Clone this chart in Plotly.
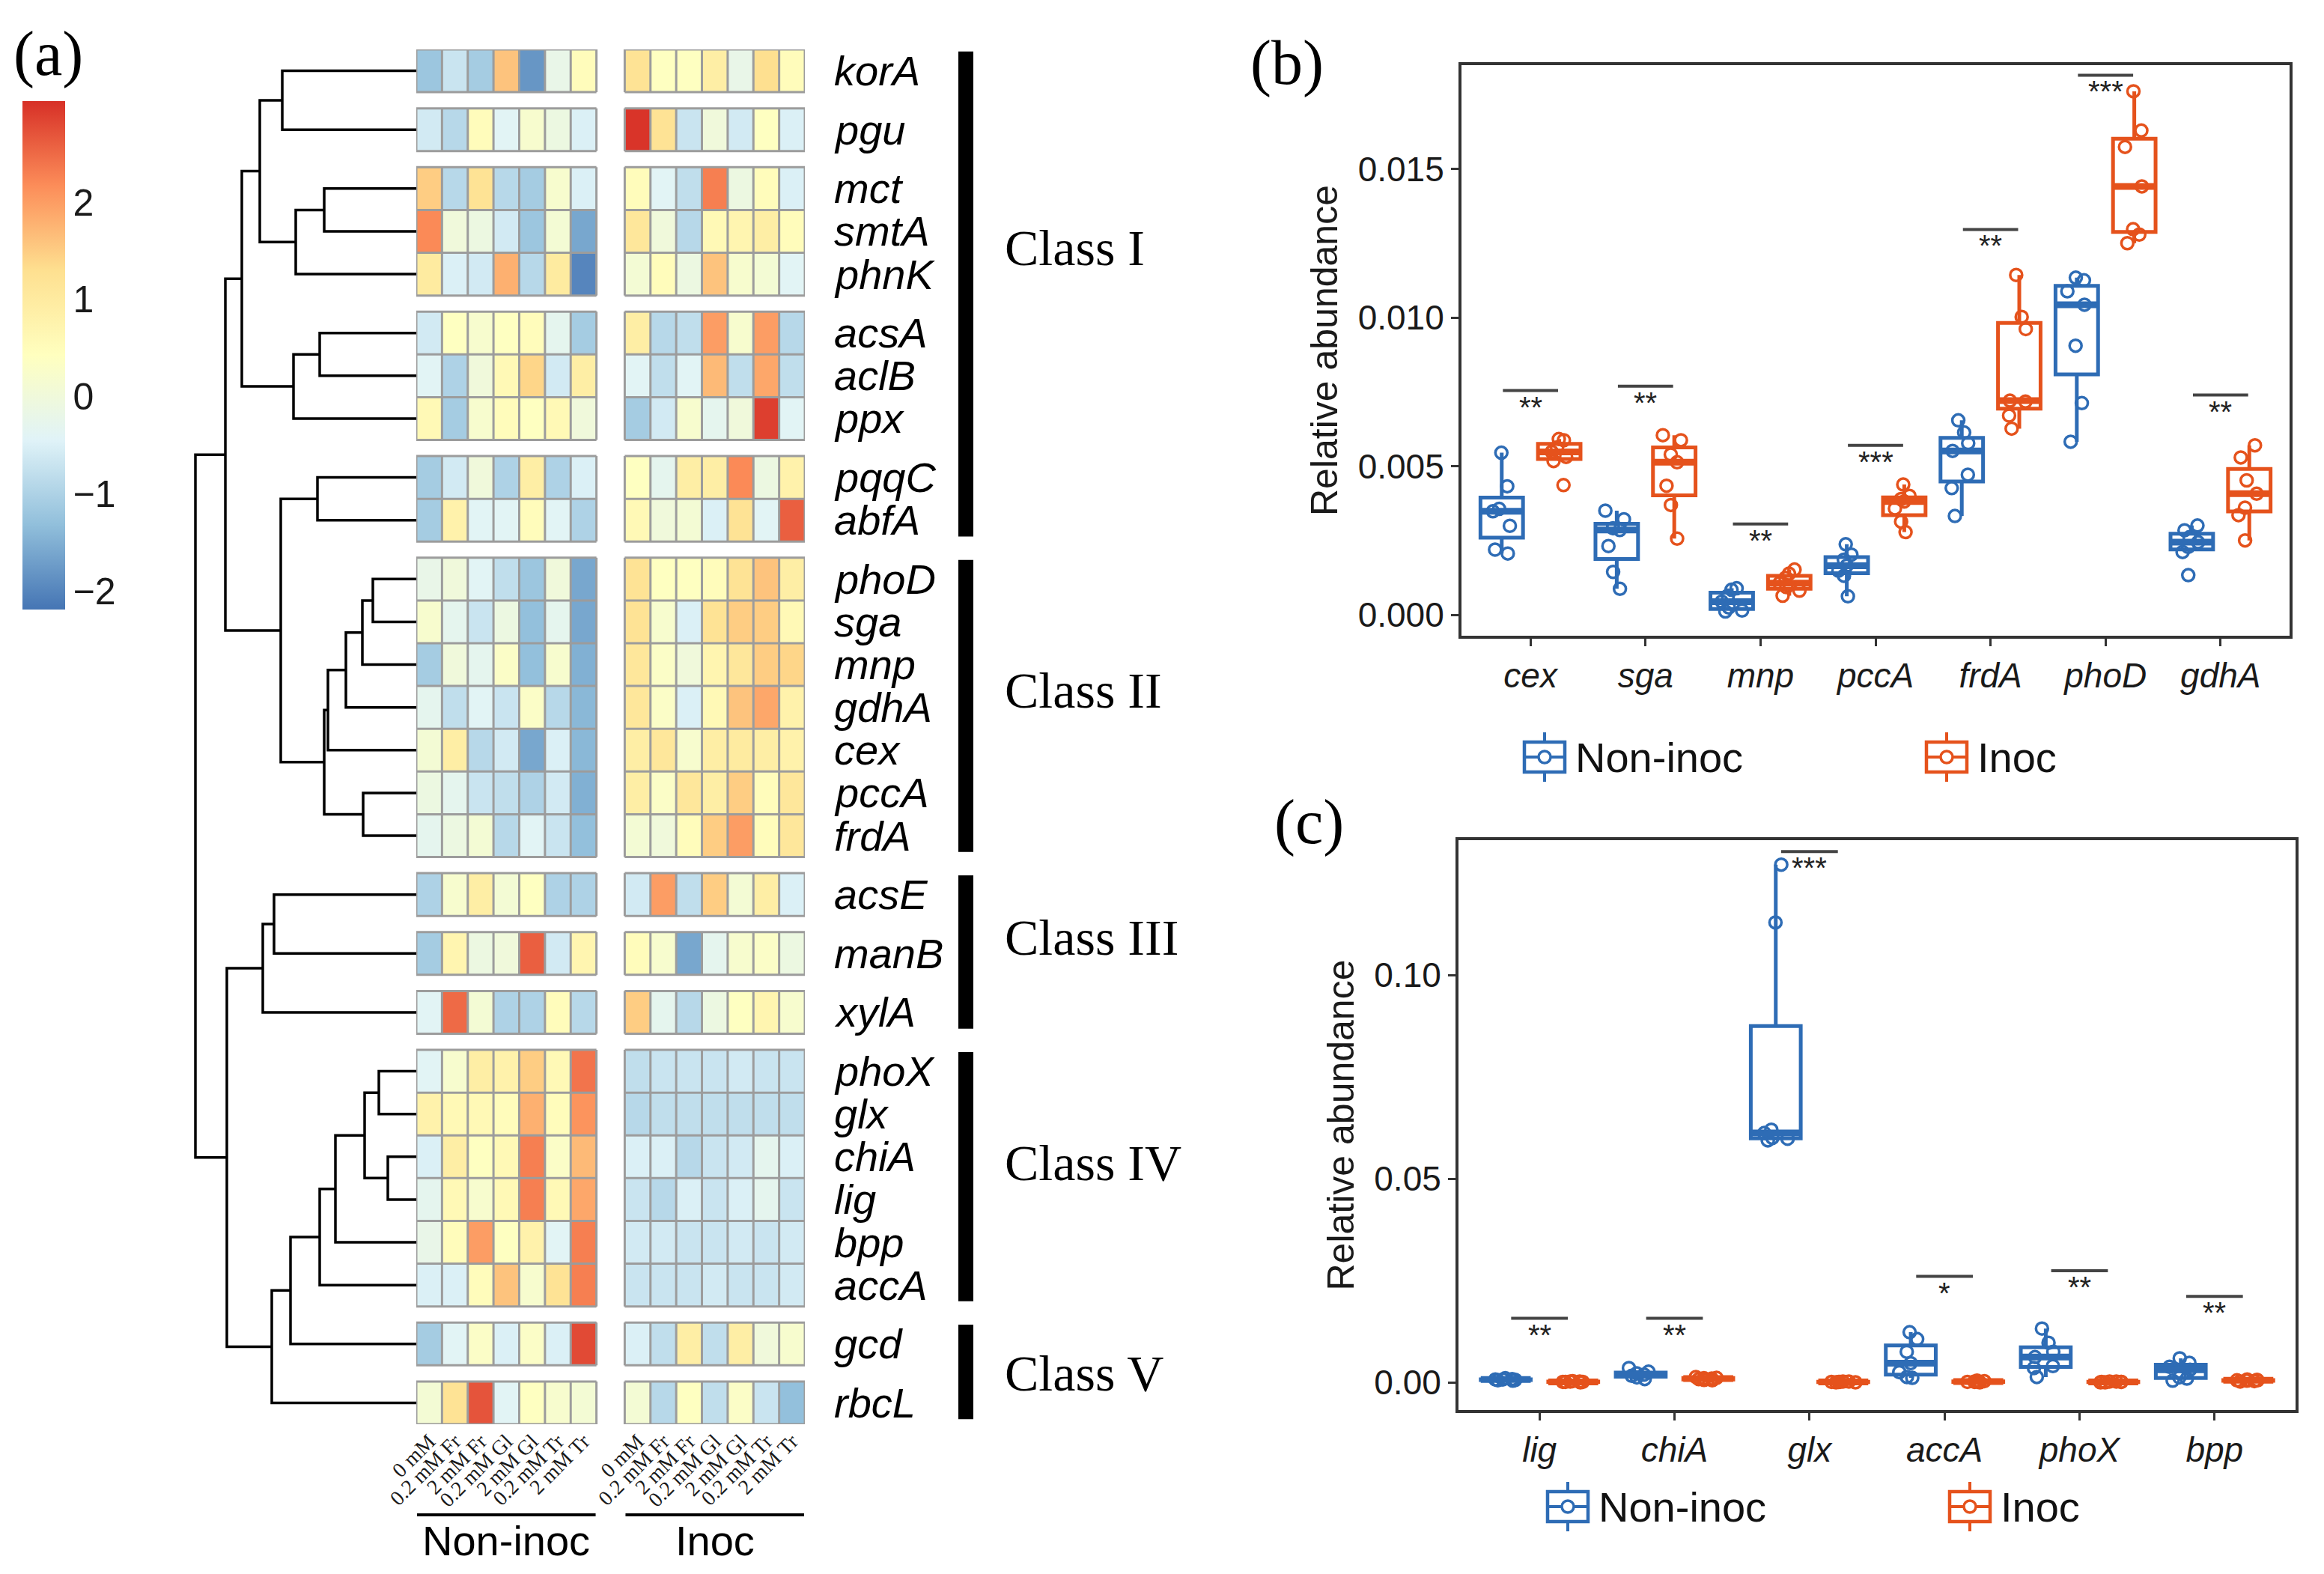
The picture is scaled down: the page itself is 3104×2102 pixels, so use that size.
import numpy as np
import plotly.graph_objects as go

W, H = 3104, 2102
OFF = 8  # default page margin of the html body


def px(x):
    return (x - OFF) / W


def py(y):
    return 1 - (y - OFF) / H


# ------------------------------------------------------------------ data
conditions = ["0 mM", "0.2 mM Fr", "2 mM Fr", "0.2 mM Gl", "2 mM Gl", "0.2 mM Tr", "2 mM Tr"]
treatments = ["Non-inoc", "Inoc"]

genes = ["korA", "pgu", "mct", "smtA", "phnK", "acsA", "aclB", "ppx", "pqqC", "abfA",
         "phoD", "sga", "mnp", "gdhA", "cex", "pccA", "frdA", "acsE", "manB", "xylA",
         "phoX", "glx", "chiA", "lig", "bpp", "accA", "gcd", "rbcL"]

row_groups = [["korA"], ["pgu"], ["mct", "smtA", "phnK"], ["acsA", "aclB", "ppx"], ["pqqC", "abfA"],
              ["phoD", "sga", "mnp", "gdhA", "cex", "pccA", "frdA"], ["acsE"], ["manB"], ["xylA"],
              ["phoX", "glx", "chiA", "lig", "bpp", "accA"], ["gcd"], ["rbcL"]]

class_names = ["Class I", "Class II", "Class III", "Class IV", "Class V"]
class_members = [[0, 1, 2, 3, 4], [5], [6, 7, 8], [9], [10, 11]]

heat_noninoc = [
    [-1.2, -0.7, -1.1, 1.6, -1.8, -0.2, 0.5],   # korA
    [-0.6, -0.9, 0.5, -0.4, 0.2, -0.1, -0.5],   # pgu
    [1.5, -0.9, 1.2, -0.9, -1.1, 0.2, -0.5],    # mct
    [2.2, 0.0, -0.1, -0.6, -1.2, 0.1, -1.6],    # smtA
    [1.0, -0.5, -0.6, 1.8, -0.9, 1.0, -2.0],    # phnK
    [-0.6, 0.4, 0.2, 0.4, 0.5, -0.3, -1.1],     # acsA
    [-0.4, -1.0, 0.0, 0.6, 1.4, -0.6, 0.9],     # aclB
    [0.6, -1.1, 0.2, 0.5, 0.4, 0.6, 0.0],       # ppx
    [-1.1, -0.6, 0.0, -1.0, 0.9, -1.0, -0.5],   # pqqC
    [-1.1, 0.8, -0.4, -0.4, 0.5, -0.4, -1.0],   # abfA
    [-0.2, 0.0, -0.4, -0.8, -1.2, 0.0, -1.6],   # phoD
    [0.2, -0.3, -0.7, -0.1, -1.3, -0.3, -1.6],  # sga
    [-1.1, 0.0, -0.3, 0.3, -1.3, 0.2, -1.5],    # mnp
    [-0.3, -0.8, -0.4, -0.7, 0.3, -0.9, -1.4],  # gdhA
    [0.1, 0.9, -0.9, -0.6, -1.6, -0.5, -1.4],   # cex
    [-0.1, -0.3, -0.7, -0.8, -1.0, -0.6, -1.5], # pccA
    [-0.3, -0.1, 0.1, -0.9, -0.4, -0.7, -1.3],  # frdA
    [-1.0, 0.2, 0.9, 0.1, 0.4, -1.0, -1.0],     # acsE
    [-1.1, 0.7, -0.1, 0.0, 2.6, -0.6, 0.7],     # manB
    [-0.4, 2.5, 0.1, -1.0, -1.0, 0.5, -0.9],    # xylA
    [-0.4, 0.2, 0.9, 0.8, 1.5, 0.6, 2.4],       # phoX
    [0.8, 0.6, 0.6, 0.5, 1.8, 0.5, 2.1],        # glx
    [-0.5, 0.9, 0.4, 0.6, 2.3, 0.3, 1.7],       # chiA
    [-0.3, 0.6, 0.2, 0.6, 2.3, 0.6, 1.9],       # lig
    [-0.2, 0.5, 2.0, 0.4, 0.8, -0.4, 2.3],      # bpp
    [-0.5, -0.5, 0.5, 1.6, 0.2, 1.2, 2.3],      # accA
    [-1.1, -0.4, 0.3, -0.5, 0.3, -0.5, 2.8],    # gcd
    [0.1, 1.2, 2.7, -0.4, 0.4, 0.2, 0.1],       # rbcL
]

heat_inoc = [
    [1.2, 0.4, 0.4, 0.9, -0.2, 1.3, 0.5],       # korA
    [3.0, 1.2, -0.7, 0.0, -0.6, 0.4, -0.5],     # pgu
    [0.5, -0.4, -0.8, 2.3, -0.1, 0.5, -0.5],    # mct
    [1.1, 0.0, -0.9, 0.6, 0.7, 0.9, 0.5],       # smtA
    [0.1, 0.5, -0.1, 1.6, 0.2, 0.1, -0.4],      # phnK
    [0.9, -0.9, -0.8, 2.0, 0.2, 2.0, -0.9],     # acsA
    [-0.4, -0.8, -0.4, 1.7, -0.8, 1.9, -0.8],   # aclB
    [-1.1, -0.6, 0.2, -0.3, 0.0, 2.9, -0.4],    # ppx
    [0.4, -0.3, 0.9, 0.9, 2.2, -0.1, 0.8],      # pqqC
    [0.6, 0.0, 0.1, -0.5, 1.2, -0.4, 2.6],      # abfA
    [1.2, 0.4, 0.4, 0.5, 1.2, 1.6, 0.9],        # phoD
    [1.2, 0.2, -0.5, 1.2, 1.5, 1.5, 0.6],       # sga
    [1.1, 0.3, 0.0, 0.7, 1.1, 1.5, 1.4],        # mnp
    [1.1, 0.3, -0.5, 0.6, 1.6, 1.9, 0.8],       # gdhA
    [0.9, 1.1, 0.2, 0.9, 1.0, 0.9, 0.8],        # cex
    [0.9, 0.3, 1.1, 0.9, 1.5, 0.5, 1.1],        # pccA
    [0.1, 0.0, 0.5, 1.5, 2.0, 0.5, 1.1],        # frdA
    [-0.6, 2.0, -0.8, 1.5, 0.1, 0.9, -0.5],     # acsE
    [0.5, 0.2, -1.6, -0.3, 0.2, 0.3, -0.1],     # manB
    [1.5, -0.3, -0.9, -0.1, 0.4, 0.7, 0.2],     # xylA
    [-0.8, -0.7, -0.7, -0.7, -0.6, -0.7, -0.7], # phoX
    [-0.9, -0.8, -0.8, -0.8, -0.8, -0.8, -0.8], # glx
    [-0.5, -0.5, -0.9, -0.7, -0.6, -0.3, -0.5], # chiA
    [-0.7, -0.9, -0.5, -0.7, -0.5, -0.3, -0.7], # lig
    [-0.6, -0.6, -0.7, -0.7, -0.6, -0.7, -0.6], # bpp
    [-0.7, -0.7, -0.7, -0.6, -0.7, -0.7, -0.6], # accA
    [-0.5, -0.8, 0.9, -0.8, 0.9, 0.0, 0.2],     # gcd
    [0.1, -0.9, 0.4, -0.8, 0.3, -0.7, -1.3],    # rbcL
]

heat_min, heat_max = -2.19, 3.04

# hierarchical clustering of the rows: (child a, child b, merge height)
dendro_merges = [
    ("mct", "smtA", 123), ("m0", "phnK", 161), ("korA", "pgu", 179), ("m2", "m1", 209),
    ("acsA", "aclB", 129), ("m4", "ppx", 164), ("m3", "m5", 233), ("pqqC", "abfA", 132),
    ("phoD", "sga", 58), ("m8", "mnp", 72), ("m9", "gdhA", 94), ("m10", "cex", 118),
    ("pccA", "frdA", 71), ("m11", "m12", 123), ("m7", "m13", 181), ("m6", "m14", 255),
    ("acsE", "manB", 190), ("m16", "xylA", 205), ("phoX", "glx", 50), ("chiA", "lig", 38),
    ("m18", "m19", 69), ("m20", "bpp", 108), ("m21", "accA", 129), ("m22", "gcd", 168),
    ("m23", "rbcL", 193), ("m17", "m24", 253), ("m15", "m25", 295),
]

b_genes = ["cex", "sga", "mnp", "pccA", "frdA", "phoD", "gdhA"]
b_noninoc = [
    [0.00207, 0.00220, 0.00300, 0.00349, 0.00357, 0.00433, 0.00546],
    [0.00088, 0.00145, 0.00232, 0.00286, 0.00292, 0.00322, 0.00351],
    [0.00012, 0.00015, 0.00025, 0.00045, 0.00065, 0.00085, 0.00090],
    [0.00063, 0.00132, 0.00149, 0.00166, 0.00186, 0.00203, 0.00238],
    [0.00333, 0.00427, 0.00472, 0.00552, 0.00578, 0.00614, 0.00655],
    [0.00583, 0.00713, 0.00906, 0.01044, 0.01089, 0.01126, 0.01135],
    [0.00134, 0.00212, 0.00229, 0.00245, 0.00262, 0.00285, 0.00301],
]
b_inoc = [
    [0.00437, 0.00518, 0.00532, 0.00549, 0.00564, 0.00588, 0.00592],
    [0.00257, 0.00370, 0.00435, 0.00514, 0.00540, 0.00588, 0.00605],
    [0.00065, 0.00082, 0.00094, 0.00107, 0.00125, 0.00139, 0.00153],
    [0.00279, 0.00314, 0.00358, 0.00382, 0.00390, 0.00401, 0.00439],
    [0.00627, 0.00671, 0.00718, 0.00721, 0.00962, 0.01003, 0.01144],
    [0.01251, 0.01280, 0.01298, 0.01442, 0.01575, 0.01630, 0.01762],
    [0.00251, 0.00336, 0.00361, 0.00408, 0.00453, 0.00530, 0.00571],
]
b_sig_y = [0.00755, 0.00770, 0.00306, 0.00571, 0.01297, 0.01816, 0.00740]
b_sig_lab = ["**", "**", "**", "***", "**", "***", "**"]

c_genes = ["lig", "chiA", "glx", "accA", "phoX", "bpp"]
c_noninoc = [
    [0.0004, 0.0005, 0.0006, 0.0007, 0.0007, 0.0008, 0.0010],
    [0.0008, 0.0012, 0.0016, 0.0019, 0.0022, 0.0026, 0.0035],
    [0.0594, 0.0598, 0.0600, 0.0612, 0.0620, 0.1129, 0.1271],
    [0.0011, 0.0013, 0.0025, 0.0047, 0.0075, 0.0106, 0.0123],
    [0.0013, 0.0035, 0.0040, 0.0062, 0.0075, 0.0097, 0.0132],
    [0.0004, 0.0009, 0.0012, 0.0031, 0.0038, 0.0048, 0.0059],
]
c_inoc = [
    [0.0000, 0.0001, 0.0001, 0.0001, 0.0002, 0.0002, 0.0003],
    [0.0005, 0.0006, 0.0008, 0.0009, 0.0010, 0.0011, 0.0013],
    [0.0000, 0.0000, 0.0001, 0.0001, 0.0001, 0.0002, 0.0002],
    [0.0000, 0.0001, 0.0001, 0.0002, 0.0002, 0.0003, 0.0004],
    [0.0000, 0.0000, 0.0001, 0.0001, 0.0001, 0.0002, 0.0002],
    [0.0002, 0.0003, 0.0004, 0.0005, 0.0005, 0.0006, 0.0007],
]
c_sig_y = [0.0157, 0.0157, 0.1303, 0.0260, 0.0274, 0.0211]
c_sig_lab = ["**", "**", "***", "*", "**", "**"]

# ------------------------------------------------------------------ styles
BLUE = "#2E6CB5"
ORANGE = "#E5521C"
SANS = "Liberation Sans, Arial, sans-serif"
SERIF = "Liberation Serif, Times New Roman, serif"
TXT = "#1a1a1a"
GRID = "#9c9c9c"
palette = ["#4575B4", "#91BFDB", "#E0F3F8", "#FFFFBF", "#FEE090", "#FC8D59", "#D73027"]
colorscale = [[i / 6, c] for i, c in enumerate(palette)]

fig = go.Figure()

# ------------------------------------------------------------------ heatmap
GAP = 0.377      # gap between row clusters (in rows)
COLGAP = 1.1     # gap between the two treatment blocks (in columns)
ncol = len(conditions)
x0_blocks = [0.0, ncol + COLGAP]
x_edges = [x0_blocks[0] + k for k in range(ncol + 1)] + [x0_blocks[1] + k for k in range(ncol + 1)]

z_rows, y_edges, row_center, group_span = [], [0.0], {}, []
yc = 0.0
for gi, grp in enumerate(row_groups):
    if gi > 0:
        z_rows.append([None] * (2 * ncol + 1))
        yc += GAP
        y_edges.append(yc)
    top = yc
    for g in grp:
        i = genes.index(g)
        z_rows.append(list(heat_noninoc[i]) + [None] + list(heat_inoc[i]))
        row_center[g] = yc + 0.5
        yc += 1
        y_edges.append(yc)
    group_span.append((top, yc))
total_rows = yc

fig.add_trace(go.Heatmap(
    x=x_edges, y=y_edges, z=z_rows, colorscale=colorscale, zmin=heat_min, zmax=heat_max,
    hoverongaps=False, xaxis="x", yaxis="y",
    colorbar=dict(x=px(30), xanchor="left", y=py(135), yanchor="top",
                  len=679, lenmode="pixels", thickness=57, thicknessmode="pixels",
                  outlinewidth=0, tickvals=[-2, -1, 0, 1, 2], ticks="",
                  tickfont=dict(size=50, family=SANS, color=TXT), xpad=0, ypad=0),
))

# cell borders
gx, gy = [], []
for top, bot in group_span:
    for xb in x0_blocks:
        for k in range(ncol + 1):
            gx += [xb + k, xb + k, None]
            gy += [top, bot, None]
        r = top
        while r <= bot + 1e-9:
            gx += [xb, xb + ncol, None]
            gy += [r, r, None]
            r += 1
fig.add_trace(go.Scatter(x=gx, y=gy, mode="lines", line=dict(color=GRID, width=3),
                         hoverinfo="skip", showlegend=False, xaxis="x", yaxis="y"))

# dendrogram
pos = {g: (0.0, row_center[g]) for g in genes}
dx, dy = [], []
for k, (a, b, h) in enumerate(dendro_merges):
    xa, ya = pos[a]
    xb, yb = pos[b]
    dx += [xa, h, h, xb, None]
    dy += [ya, ya, yb, yb, None]
    pos[f"m{k}"] = (h, (ya + yb) / 2)
fig.add_trace(go.Scatter(x=dx, y=dy, mode="lines", line=dict(color="black", width=3.5),
                         hoverinfo="skip", showlegend=False, xaxis="x2", yaxis="y"))

annotations = []
shapes = []

# gene labels
for g in genes:
    annotations.append(dict(x=px(1112), xref="paper", y=row_center[g], yref="y",
                            text=f"<i>{g}</i>", showarrow=False, xanchor="left", yanchor="middle",
                            font=dict(size=56, family=SANS, color="black")))

# class bars and labels
class_label_py = [331, 922, 1252, 1553, 1834]
for name, members, lab_y in zip(class_names, class_members, class_label_py):
    top = group_span[members[0]][0]
    bot = group_span[members[-1]][1]
    shapes.append(dict(type="rect", xref="paper", yref="y", x0=px(1280), x1=px(1300),
                       y0=top + 0.05, y1=bot - 0.12, fillcolor="black", line=dict(width=0)))
    annotations.append(dict(x=px(1340), xref="paper", y=py(lab_y), yref="paper", text=name,
                            showarrow=False, xanchor="left", yanchor="middle",
                            font=dict(size=68, family=SERIF, color="black")))

# treatment labels under heatmap
for xb, t in zip(x0_blocks, treatments):
    shapes.append(dict(type="line", xref="x", yref="paper", x0=xb + 0.03, x1=xb + ncol - 0.03,
                       y0=py(2023), y1=py(2023), line=dict(color="black", width=4)))
    annotations.append(dict(x=xb + ncol / 2, xref="x", y=py(2057), yref="paper", text=t,
                            showarrow=False, xanchor="center", yanchor="middle",
                            font=dict(size=56, family=SANS, color="black")))


# ------------------------------------------------------------------ box panels
def add_panel(cats, ni, inoc, sig_y, sig_lab, xa, ya, half):
    for vals, off, col, name in ((ni, -0.25, BLUE, "Non-inoc"), (inoc, 0.25, ORANGE, "Inoc")):
        xs, ys = [], []
        for i, v in enumerate(vals):
            xs += [i + 1 + off] * len(v)
            ys += list(v)
        fig.add_trace(go.Box(
            x=xs, y=ys, width=0.37, boxpoints="all", jitter=0.55, pointpos=0,
            quartilemethod="inclusive", whiskerwidth=0,
            line=dict(color=col, width=5), fillcolor="rgba(255,255,255,0)",
            marker=dict(symbol="circle-open", size=16, color=col, line=dict(width=3.5, color=col)),
            name=name, showlegend=False, xaxis=xa, yaxis=ya, hoverinfo="y"))
        mx, my = [], []
        for i, v in enumerate(vals):
            m = float(np.median(v))
            c = i + 1 + off
            mx += [c - 0.185, c + 0.185, None]
            my += [m, m, None]
        fig.add_trace(go.Scatter(x=mx, y=my, mode="lines", line=dict(color=col, width=9),
                                 hoverinfo="skip", showlegend=False, xaxis=xa, yaxis=ya))
    sx, sy = [], []
    for i, yv in enumerate(sig_y):
        sx += [i + 1 - half, i + 1 + half, None]
        sy += [yv, yv, None]
    fig.add_trace(go.Scatter(x=sx, y=sy, mode="lines", line=dict(color="#444444", width=4),
                             hoverinfo="skip", showlegend=False, xaxis=xa, yaxis=ya))
    for i, (yv, lab) in enumerate(zip(sig_y, sig_lab)):
        annotations.append(dict(x=i + 1, xref=xa, y=yv, yref=ya, text=lab, showarrow=False,
                                xanchor="center", yanchor="top", yshift=2,
                                font=dict(size=40, family=SANS, color="#222222")))


add_panel(b_genes, b_noninoc, b_inoc, b_sig_y, b_sig_lab, "x3", "y3", 0.24)
add_panel(c_genes, c_noninoc, c_inoc, c_sig_y, c_sig_lab, "x4", "y4", 0.21)


# hand-drawn legends (ggplot-style box glyphs)
def legend_entry(gx0, gyc, col, text):
    gw, bh, wh, r = 54, 40, 33, 8
    cx = gx0 + gw / 2
    shapes.append(dict(type="line", xref="paper", yref="paper", x0=px(cx), x1=px(cx),
                       y0=py(gyc - wh), y1=py(gyc + wh), line=dict(color=col, width=4)))
    shapes.append(dict(type="rect", xref="paper", yref="paper", x0=px(gx0), x1=px(gx0 + gw),
                       y0=py(gyc - bh / 2), y1=py(gyc + bh / 2), fillcolor="white",
                       line=dict(color=col, width=4.5)))
    shapes.append(dict(type="line", xref="paper", yref="paper", x0=px(gx0), x1=px(gx0 + gw),
                       y0=py(gyc), y1=py(gyc), line=dict(color=col, width=4)))
    shapes.append(dict(type="circle", xref="paper", yref="paper", x0=px(cx - r), x1=px(cx + r),
                       y0=py(gyc - r), y1=py(gyc + r), fillcolor="white",
                       line=dict(color=col, width=3.5)))
    annotations.append(dict(x=px(gx0 + gw + 12), xref="paper", y=py(gyc), yref="paper",
                            text=text, showarrow=False, xanchor="left", yanchor="middle",
                            font=dict(size=56, family=SANS, color="#111111")))


for (gx0, gyc), col, t in zip([(2036, 1011), (2573, 1011)], [BLUE, ORANGE], treatments):
    legend_entry(gx0, gyc, col, t)
for (gx0, gyc), col, t in zip([(2067, 2012), (2604, 2012)], [BLUE, ORANGE], treatments):
    legend_entry(gx0, gyc, col, t)

# panel letters
for lab, (lx, ly) in zip(["(a)", "(b)", "(c)"], [(16, 72), (1668, 84), (1700, 1098)]):
    annotations.append(dict(x=px(lx), xref="paper", y=py(ly), yref="paper", text=lab,
                            showarrow=False, xanchor="left", yanchor="middle",
                            font=dict(size=84, family=SERIF, color="black")))

frame = dict(showline=True, mirror=True, linecolor="#333333", linewidth=4, showgrid=False,
             zeroline=False, ticks="outside", ticklen=10, tickwidth=3, tickcolor="#333333",
             tickfont=dict(size=46, family=SANS, color=TXT))

fig.update_layout(
    width=W, height=H, margin=dict(l=0, r=0, t=0, b=0, autoexpand=False),
    paper_bgcolor="white", plot_bgcolor="white", showlegend=False,
    xaxis=dict(domain=[px(556), px(1075)], range=[0, x_edges[-1]], anchor="y",
               tickvals=[k + 0.5 for k in range(ncol)] + [x0_blocks[1] + k + 0.5 for k in range(ncol)],
               ticktext=conditions * 2, tickangle=-45, ticks="", showgrid=False, zeroline=False,
               showline=False, tickfont=dict(size=28, family=SERIF, color=TXT)),
    yaxis=dict(domain=[py(1902), py(66)], range=[total_rows, 0], anchor="x",
               showticklabels=False, showgrid=False, zeroline=False, ticks=""),
    xaxis2=dict(domain=[0, px(556)], range=[556 - OFF, 0], anchor="y", visible=False),
    xaxis3=dict(domain=[px(1952), px(3058)], range=[0.4, len(b_genes) + 0.6], anchor="y3",
                tickvals=list(range(1, len(b_genes) + 1)), ticktext=[f"<i>{g}</i>" for g in b_genes],
                **frame),
    yaxis3=dict(domain=[py(849), py(87)], range=[-0.000698, 0.0185], anchor="x3",
                tickvals=[0, 0.005, 0.010, 0.015], tickformat=".3f",
                title=dict(text="Relative abundance", font=dict(size=50, family=SANS, color=TXT), standoff=12),
                **frame),
    xaxis4=dict(domain=[px(1948), px(3066)], range=[0.4, len(c_genes) + 0.6], anchor="y4",
                tickvals=list(range(1, len(c_genes) + 1)), ticktext=[f"<i>{g}</i>" for g in c_genes],
                **frame),
    yaxis4=dict(domain=[py(1883), py(1122)], range=[-0.0068, 0.1331], anchor="x4",
                tickvals=[0, 0.05, 0.10], tickformat=".2f",
                title=dict(text="Relative abundance", font=dict(size=50, family=SANS, color=TXT), standoff=12),
                **frame),
    annotations=annotations, shapes=shapes,
)

fig.write_html("out.html")
